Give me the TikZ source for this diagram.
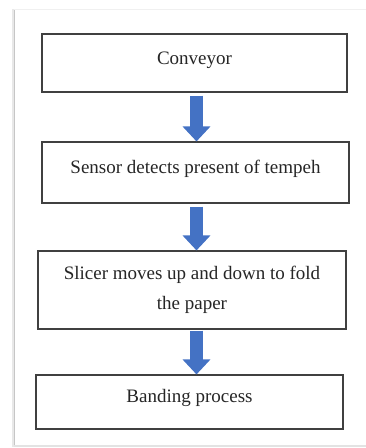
\documentclass[tikz,border=0pt]{standalone}
\usepackage{fontspec}
\setmainfont{Liberation Serif}
\usetikzlibrary{arrows.meta}
\definecolor{flowblue}{HTML}{4472C4}
\definecolor{boxline}{HTML}{404040}
\tikzset{
  stepbox/.style={draw=boxline, line width=1.1pt, fill=white, inner sep=0pt,
    align=center, font=\fontsize{19}{30}\selectfont, text=black!85},
  flow/.style={draw=flowblue, line width=13pt,
    -{Triangle[width=27pt,length=15pt,fill=flowblue]}},
}
\begin{document}
\begin{tikzpicture}[x=1pt,y=-1pt]
  \useasboundingbox (0,0) rectangle (366,448);
  % page frame with soft shadow on the left and faint rules top and bottom
  \draw[gray!18, line width=3pt] (13,9) -- (13,447);
  \draw[gray!45, line width=1.4pt] (14.5,9) -- (14.5,446);
  \draw[gray!12, line width=1pt] (14,9) -- (366,9);
  \draw[gray!22, line width=1.2pt] (14,446) -- (366,446);
  % process steps
  \node[stepbox, minimum width=305pt, minimum height=58pt, text depth=10pt]
    (b1) at (194.5,63) {Conveyor};
  \node[stepbox, minimum width=307pt, minimum height=61pt, text depth=12pt]
    (b2) at (195.5,172.5) {Sensor detects present of tempeh};
  \node[stepbox, minimum width=308pt, minimum height=78pt]
    (b3) at (192,290) {Slicer moves up and down to fold\\the paper};
  \node[stepbox, minimum width=307pt, minimum height=54pt, text depth=12pt]
    (b4) at (189.5,402) {Banding process};
  % flow arrows
  \draw[flow, shorten <=3pt] ([xshift=2pt]b1.south) -- ([xshift=1pt]b2.north);
  \draw[flow, shorten <=3pt] ([xshift=1pt]b2.south) -- ([xshift=4.5pt]b3.north);
  \draw[flow, shorten <=1pt] ([xshift=4.5pt]b3.south) -- ([xshift=7pt]b4.north);
\end{tikzpicture}
\end{document}
